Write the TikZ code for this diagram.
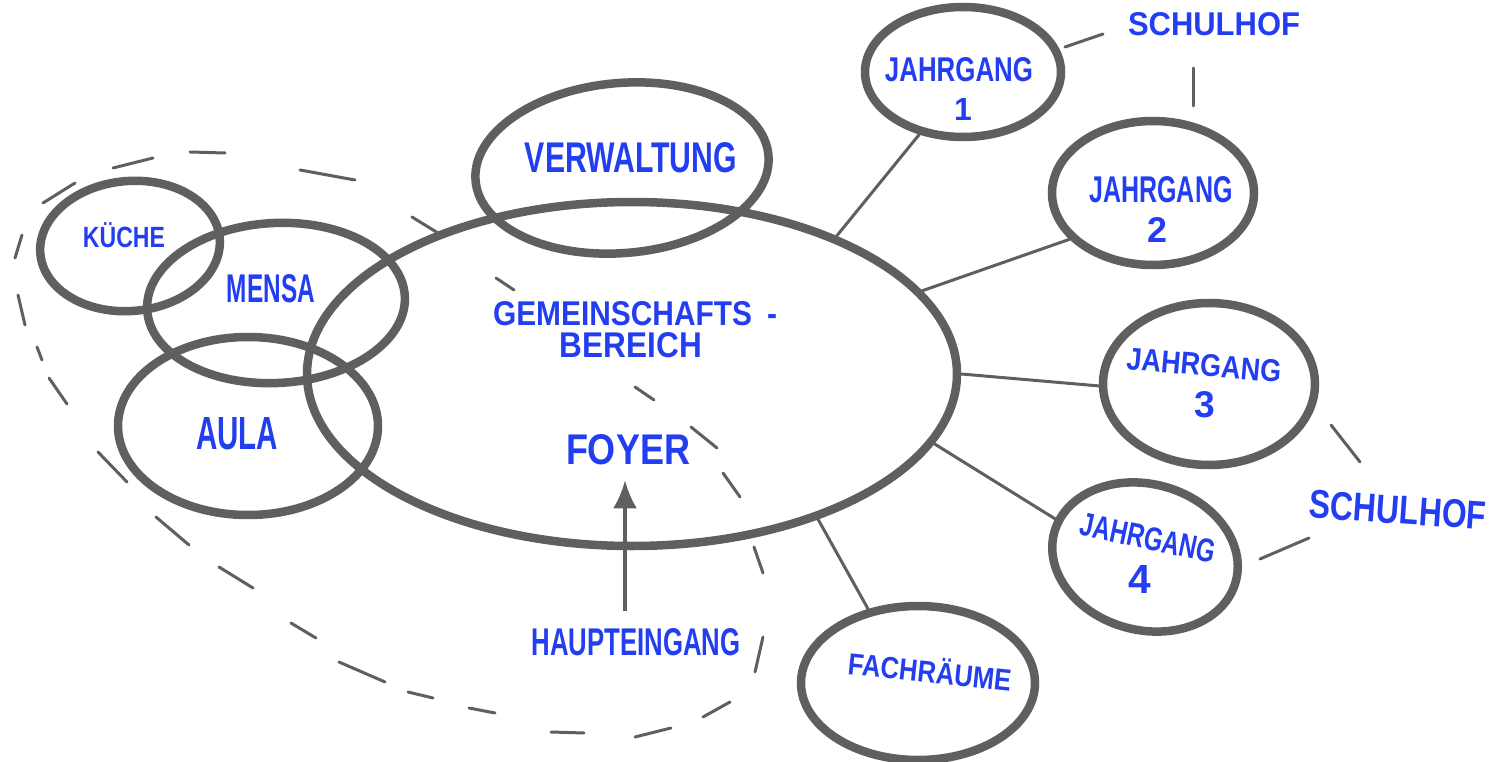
\documentclass[tikz,border=0pt]{standalone}
\usepackage{fontspec}
\setmainfont{Liberation Sans}
\usetikzlibrary{shapes.geometric,arrows.meta}
\definecolor{ink}{RGB}{95,95,95}
\definecolor{pen}{RGB}{35,62,240}
\newcommand\fitt[3]{\resizebox{#1pt}{#2pt}{\bfseries #3}}
\newcommand\fith[2]{\resizebox{!}{#1pt}{\bfseries #2}}
\begin{document}
\begin{tikzpicture}[x=1pt,y=-1pt,
  blob/.style={ellipse, draw=ink, line width=8.5pt, inner sep=0pt},
  link/.style={draw=ink, line width=3pt, line cap=round},
  dashseg/.style={draw=ink, line width=3pt, line cap=round},
  txt/.style={text=pen, inner sep=0pt},
  arr/.style={draw=ink, line width=3.5pt, -{Latex[length=28pt,width=24pt]}}]
\useasboundingbox (0,0) rectangle (1492,762);
% areas
\node[blob, minimum width=650pt, minimum height=344pt] (big) at (632,374) {};
\node[blob, minimum width=294pt, minimum height=170pt, rotate=5] (verw) at (622,168) {};
\node[blob, minimum width=180pt, minimum height=130pt, rotate=5] (kueche) at (130,246) {};
\node[blob, minimum width=258pt, minimum height=160pt, rotate=3] (mensa) at (276,303) {};
\node[blob, minimum width=260pt, minimum height=178pt] (aula) at (248,426) {};
\node[blob, minimum width=196pt, minimum height=130pt] (j1) at (963,72) {};
\node[blob, minimum width=202pt, minimum height=144pt] (j2) at (1153,193) {};
\node[blob, minimum width=212pt, minimum height=162pt] (j3) at (1209,384) {};
\node[blob, minimum width=188pt, minimum height=146pt, rotate=-15] (j4) at (1145,557) {};
\node[blob, minimum width=234pt, minimum height=154pt] (fach) at (918,683) {};
% links
\draw[link] (big.34) -- (j1.235);
\draw[link] (big.16) -- (j2.209);
\draw[link] (big.0) -- (j3.181);
\draw[link] (big.347) -- (j4.172);
\draw[link] (big.322) -- (fach.124);
% texts
\node[txt] (tverw) at (631,158) {\fitt{212}{30}{VERWALTUNG}};
\node[txt] (tgem) at (635,314) {\fitt{284}{24}{GEMEINSCHAFTS\hspace{0.5em}-}};
\node[txt] (tber) at (631,345) {\fitt{142}{25}{BEREICH}};
\node[txt] (tfoyer) at (628,450) {\fitt{124}{30}{FOYER}};
\node[txt] (thaupt) at (636,642) {\fitt{209}{27}{HAUPTEINGANG}};
\node[txt] (tkueche) at (124,235) {\fitt{82}{25}{KÜCHE}};
\node[txt] (tmensa) at (271,289) {\fitt{88}{28}{MENSA}};
\node[txt] (taula) at (237,434) {\fitt{82}{32}{AULA}};
\node[txt] (tj1) at (959,70) {\fitt{148}{24}{JAHRGANG}};
\node[txt] (tj1n) at (963,109) {\fith{22}{1}};
\node[txt] (tj2) at (1161,190) {\fitt{143}{26}{JAHRGANG}};
\node[txt] (tj2n) at (1157,230) {\fith{25}{2}};
\node[txt, rotate=-5] (tj3) at (1204,365) {\fitt{155}{22}{JAHRGANG}};
\node[txt] (tj3n) at (1205,405) {\fith{26}{3}};
\node[txt, rotate=-12] (tj4) at (1148,538) {\fitt{138}{23}{JAHRGANG}};
\node[txt] (tj4n) at (1140,579) {\fith{28}{4}};
\node[txt, rotate=-6] (tfach) at (930,670) {\fitt{164}{26}{FACHRÄUME}};
\node[txt] (tschul1) at (1214,24) {\fitt{172}{23}{SCHULHOF}};
\node[txt, rotate=-4] (tschul2) at (1398,510) {\fitt{177}{28}{SCHULHOF}};
% main entrance arrow
\coordinate (ax) at (625,0);
\draw[arr, shorten <=17pt, shorten >=15pt] (thaupt.north -| ax) -- (tfoyer.south -| ax);
% schoolyard ties
\coordinate (sa1) at (1065,47); \coordinate (sa2) at (1103,34);
\coordinate (sb1) at (1193,68); \coordinate (sb2) at (1193,106);
\coordinate (sc1) at (1331,425); \coordinate (sc2) at (1360,462);
\coordinate (sd1) at (1260,559); \coordinate (sd2) at (1309,538);
\draw[link] (sa1) -- (sa2);
\draw[link] (sb1) -- (sb2);
\draw[link] (sc1) -- (sc2);
\draw[link] (sd1) -- (sd2);
% dashed boundary of the common zone
\foreach \ax/\ay/\bx/\by in {190/152/225/153, 113/168/153/158, 43/203/75/183,
  15/258/22/235, 18/295/25/325, 37/347/42/360, 49/378/67/404, 98/452/127/482,
  156/517/189/545, 219/567/253/588, 291/623/316/638, 339/662/385/682,
  408/692/433/698, 469/708/495/713, 551/732/584/733, 635/737/671/728,
  703/717/730/702, 755/672/763/637, 754/547/763/573, 723/473/740/497,
  691/427/717/448, 635/387/654/400, 496/278/514/290, 412/217/438/233,
  300/170/355/180}
  \draw[dashseg] (\ax,\ay) -- (\bx,\by);
\end{tikzpicture}
\end{document}
